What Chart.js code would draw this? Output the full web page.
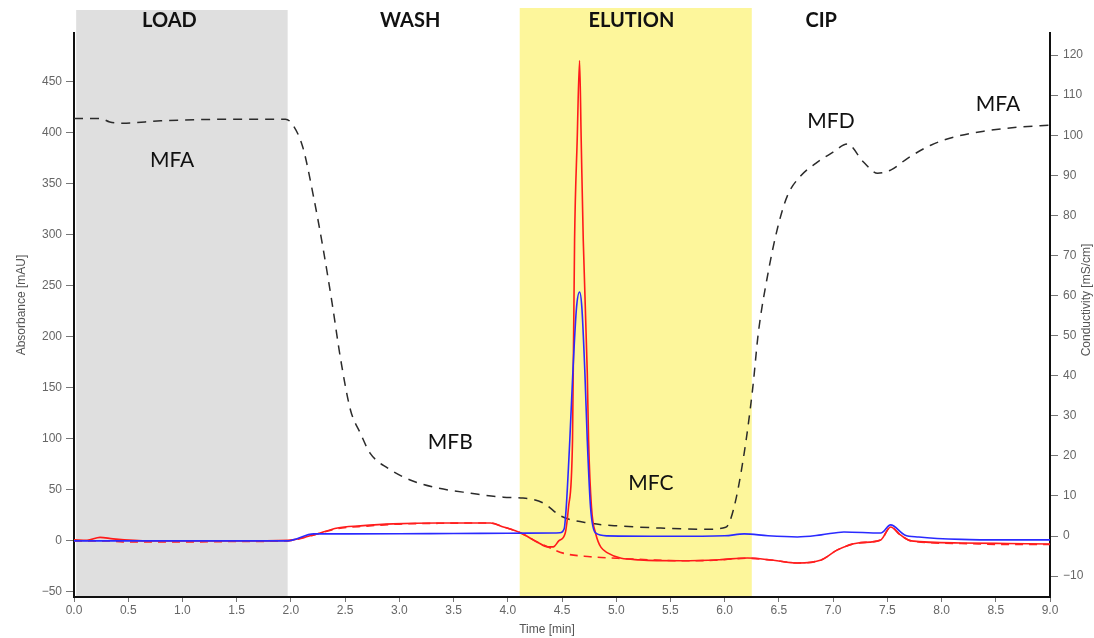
<!DOCTYPE html>
<html>
<head>
<meta charset="utf-8">
<script src="https://cdn.jsdelivr.net/npm/chart.js@4/dist/chart.umd.min.js"></script>
<style>
  html, body { margin: 0; padding: 0; background: #fff; }
  canvas { display: block; }
</style>
</head>
<body>
<canvas id="chromChart" width="1094" height="638"></canvas>
<script>
// axis ticks
const timeTicks = [0, 0.5, 1, 1.5, 2, 2.5, 3, 3.5, 4, 4.5, 5, 5.5, 6, 6.5, 7, 7.5, 8, 8.5, 9];
const absTicks = [-50, 0, 50, 100, 150, 200, 250, 300, 350, 400, 450];
const condTicks = [-10, 0, 10, 20, 30, 40, 50, 60, 70, 80, 90, 100, 110, 120];

// phases
const phaseNames = ['LOAD', 'WASH', 'ELUTION', 'CIP'];
const phaseLabelTime = [0.88, 3.10, 5.14, 6.89];
const shadeFrom = [0.02, 4.11];
const shadeTo = [1.97, 6.25];
const shadeColors = ['#dfdfdf', '#fdf69b'];

// mobile phase labels (time, conductivity)
const mfNames = ['MFA', 'MFB', 'MFC', 'MFD', 'MFA'];
const mfTime = [0.905, 3.47, 5.32, 6.98, 8.52];
const mfCond = [93.8, 23.5, 13.2, 103.5, 107.8];

// conductivity [mS/cm]
const condTime = [0, 0.24, 0.33, 0.45, 0.8, 1.5, 1.95, 2.02, 2.11, 2.21, 2.30, 2.38, 2.46, 2.55, 2.64, 2.73, 2.89, 3.10, 3.35, 3.66, 3.96, 4.14, 4.33, 4.49, 4.76, 5.04, 5.41, 5.82, 6.01, 6.08, 6.18, 6.26, 6.31, 6.40, 6.49, 6.58, 6.70, 6.84, 7.00, 7.13, 7.28, 7.41, 7.53, 7.69, 7.90, 8.11, 8.39, 8.70, 9.0];
const condValue = [104.2, 104.2, 103.3, 103.0, 103.6, 104, 104, 102.5, 97, 84.5, 71.3, 58.1, 43.9, 31.4, 25.7, 20.7, 17, 14, 12, 10.7, 9.7, 9.5, 8.2, 5.0, 3.2, 2.5, 2.0, 1.7, 2.2, 6.5, 20.7, 37.2, 50.6, 65.6, 77.1, 85.0, 89.8, 93.0, 95.8, 97.8, 93.3, 90.5, 91.3, 94.3, 97.5, 99.5, 101, 102, 102.5];

// red UV trace [mAU]
const redTime = [0, 0.12, 0.24, 0.36, 0.7, 1.5, 1.97, 2.02, 2.21, 2.43, 2.64, 2.94, 3.35, 3.84, 3.96, 4.12, 4.27, 4.37, 4.42, 4.47, 4.53, 4.56, 4.597, 4.616, 4.64, 4.662, 4.677, 4.696, 4.733, 4.745, 4.772, 4.809, 4.92, 5.22, 5.6, 5.95, 6.21, 6.45, 6.67, 6.89, 7.04, 7.23, 7.44, 7.53, 7.62, 7.72, 8.18, 8.6, 9];
const redValue = [1, 0.5, 3.5, 2, 0, 0, 0.5, 1, 5.9, 12.7, 14.7, 16.7, 17.6, 17.6, 13.7, 7.8, -1, -5.9, -5.9, 0, 7.8, 33, 99, 295, 393, 471, 393, 295, 165, 99, 33, 7.8, -11.8, -18.6, -19.5, -18.5, -16.7, -19, -21.6, -18.6, -8.8, -2, 1, 13.7, 5.9, 0, -2, -2.5, -3];

// red baseline (dashed)
const baseTime = [0, 0.3, 0.45, 1.0, 1.6, 1.97, 2.2, 2.43, 2.7, 3.0, 3.4, 3.84, 3.96, 4.12, 4.27, 4.37, 4.51, 4.76, 5.0, 5.3, 5.6, 5.9, 6.21, 6.45, 6.67, 6.89, 7.04, 7.23, 7.44, 7.53, 7.62, 7.72, 8.18, 8.6, 9];
const baseValue = [0, 0, -1, -1, -0.5, 0, 5.5, 12, 14.5, 16.5, 17.3, 17.6, 13.7, 7.8, -1, -5.9, -12, -15.5, -17, -18.5, -19.5, -19, -17, -19, -21.6, -18.6, -8.8, -2, 1, 13.7, 5.9, 0, -2.5, -3.5, -3.5];

// blue UV trace [mAU]
const blueTime = [0, 0.5, 1.0, 1.5, 1.97, 2.02, 2.21, 2.4, 3.0, 3.5, 4.0, 4.42, 4.48, 4.52, 4.539, 4.572, 4.6, 4.634, 4.662, 4.683, 4.711, 4.733, 4.763, 4.809, 4.917, 5.5, 6.0, 6.18, 6.4, 6.67, 6.89, 7.1, 7.44, 7.53, 7.66, 7.79, 8.18, 8.6, 9];
const blueValue = [0, 0, 0, 0, 0, 1, 6.9, 6.9, 7.0, 7.3, 7.5, 7.8, 8, 12, 33, 99, 165, 229, 244, 229, 165, 99, 33, 7.8, 4.9, 4.5, 5, 6.9, 5, 3.9, 5.9, 8.8, 7.8, 15.7, 5.9, 3.9, 1.5, 1, 1];

function toPoints(xs, ys) {
    return xs.map((x, i) => ({ x: x, y: ys[i] }));
}

function fmtTick(v) {
    return v < 0 ? '\u2212' + Math.abs(v) : String(v);
}

const tickFont = { family: "'Liberation Sans', Arial, sans-serif", size: 12 };
const narrowFont = "'Liberation Sans Narrow', 'Liberation Sans', Arial, sans-serif";

const decorPlugin = {
    id: 'decor',
    beforeDraw(chart) {
        const ctx = chart.ctx;
        const xs = chart.scales.x;
        const area = chart.chartArea;
        ctx.save();
        ctx.fillStyle = '#ffffff';
        ctx.fillRect(0, 0, chart.width, chart.height);
        // shaded phases
        ctx.fillStyle = shadeColors[0];
        ctx.fillRect(xs.getPixelForValue(shadeFrom[0]), 10,
            xs.getPixelForValue(shadeTo[0]) - xs.getPixelForValue(shadeFrom[0]), area.bottom - 11);
        ctx.fillStyle = shadeColors[1];
        ctx.fillRect(xs.getPixelForValue(shadeFrom[1]), 8,
            xs.getPixelForValue(shadeTo[1]) - xs.getPixelForValue(shadeFrom[1]), area.bottom - 9);
        ctx.restore();
    },
    afterDatasetsDraw(chart) {
        const ctx = chart.ctx;
        const xs = chart.scales.x;
        const y2 = chart.scales.y2;
        ctx.save();
        // phase names
        ctx.fillStyle = '#111';
        ctx.font = "bold 20px Lato, 'Open Sans', sans-serif";
        ctx.textAlign = 'center';
        ctx.textBaseline = 'middle';
        phaseNames.forEach((name, i) => {
            ctx.fillText(name, xs.getPixelForValue(phaseLabelTime[i]), 21);
        });
        // mobile phase labels
        ctx.font = "21px Lato, 'Open Sans', sans-serif";
        mfNames.forEach((name, i) => {
            ctx.fillText(name, xs.getPixelForValue(mfTime[i]), y2.getPixelForValue(mfCond[i]));
        });
        // axis titles
        ctx.fillStyle = '#555';
        ctx.font = "12px " + narrowFont;
        ctx.fillText('Time [min]', 547, 630);
        ctx.font = "12px 'Liberation Sans', Arial, sans-serif";
        ctx.translate(22, 305);
        ctx.rotate(-Math.PI / 2);
        ctx.fillText('Absorbance [mAU]', 0, 0);
        ctx.restore();
        ctx.save();
        ctx.fillStyle = '#555';
        ctx.font = "12px 'Liberation Sans', Arial, sans-serif";
        ctx.textAlign = 'center';
        ctx.textBaseline = 'middle';
        ctx.translate(1087, 300);
        ctx.rotate(-Math.PI / 2);
        ctx.fillText('Conductivity [mS/cm]', 0, 0);
        ctx.restore();
    }
};

const ctx = document.getElementById('chromChart').getContext('2d');
const chromChart = new Chart(ctx, {
    type: 'line',
    data: {
        datasets: [
            {
                label: 'Blue UV',
                data: toPoints(blueTime, blueValue),
                yAxisID: 'y',
                borderColor: '#2a2aff',
                borderWidth: 1.6,
                pointRadius: 0,
                fill: false,
                cubicInterpolationMode: 'monotone'
            },
            {
                label: 'Red baseline',
                data: toPoints(baseTime, baseValue),
                yAxisID: 'y',
                borderColor: '#ff2020',
                borderWidth: 1.6,
                borderDash: [8, 6],
                pointRadius: 0,
                fill: false,
                cubicInterpolationMode: 'monotone'
            },
            {
                label: 'Red UV',
                data: toPoints(redTime, redValue),
                yAxisID: 'y',
                borderColor: '#ff1a1a',
                borderWidth: 1.6,
                pointRadius: 0,
                fill: false,
                cubicInterpolationMode: 'monotone'
            },
            {
                label: 'Conductivity',
                data: toPoints(condTime, condValue),
                yAxisID: 'y2',
                borderColor: '#2b2b2b',
                borderWidth: 1.5,
                borderDash: [9, 7],
                pointRadius: 0,
                fill: false,
                cubicInterpolationMode: 'monotone'
            }
        ]
    },
    options: {
        responsive: false,
        animation: false,
        devicePixelRatio: 1,
        layout: { padding: { top: 33, left: 0, right: 0, bottom: 0 } },
        plugins: {
            legend: { display: false },
            tooltip: { enabled: false }
        },
        scales: {
            x: {
                type: 'linear',
                position: 'bottom',
                min: 0,
                max: 9,
                afterBuildTicks: s => { s.ticks = timeTicks.map(v => ({ value: v })); },
                afterFit: s => { s.height = 41; },
                ticks: {
                    autoSkip: false,
                    maxRotation: 0,
                    padding: 1,
                    color: '#666',
                    font: { family: narrowFont, size: 12 },
                    callback: v => v.toFixed(1)
                },
                grid: { drawOnChartArea: false, tickLength: 5, color: '#777' },
                border: { color: '#111', width: 2 }
            },
            y: {
                position: 'left',
                min: -55,
                max: 498,
                afterBuildTicks: s => { s.ticks = absTicks.map(v => ({ value: v })); },
                afterFit: s => { s.width = 74; },
                ticks: { padding: 4, color: '#666', font: tickFont, callback: fmtTick },
                grid: { drawOnChartArea: false, tickLength: 8, color: '#777' },
                border: { color: '#111', width: 2 }
            },
            y2: {
                position: 'right',
                min: -15.2,
                max: 125.5,
                afterBuildTicks: s => { s.ticks = condTicks.map(v => ({ value: v })); },
                afterFit: s => { s.width = 44; },
                ticks: { padding: 5, color: '#666', font: tickFont, callback: fmtTick },
                grid: { drawOnChartArea: false, tickLength: 8, color: '#777' },
                border: { color: '#111', width: 2 }
            }
        }
    },
    plugins: [decorPlugin]
});
</script>
</body>
</html>
